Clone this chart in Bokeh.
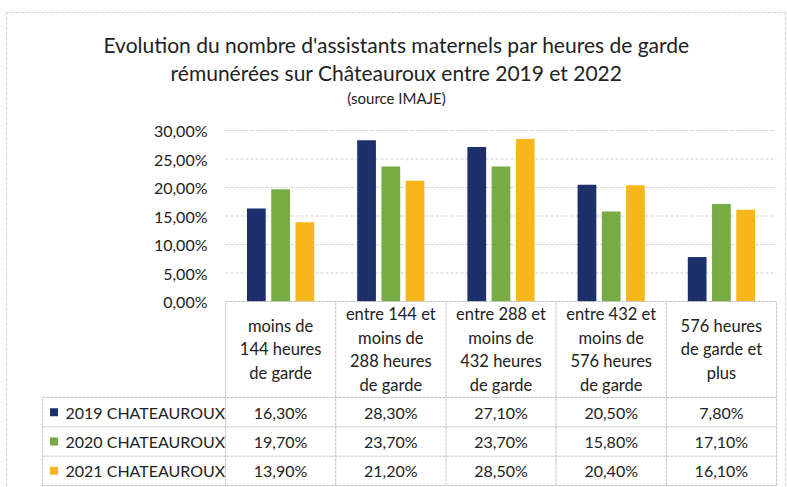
from bokeh.plotting import figure
from bokeh.models import Range1d, FixedTicker, ColumnDataSource
from bokeh.layouts import column
from bokeh.embed import file_html
from bokeh.resources import INLINE
from bokeh.core.properties import value

# ---------------- data ----------------
categories = [
    "moins de\n144 heures\nde garde",
    "entre 144 et\nmoins de\n288 heures\nde garde",
    "entre 288 et\nmoins de\n432 heures\nde garde",
    "entre 432 et\nmoins de\n576 heures\nde garde",
    "576 heures\nde garde et\nplus",
]
series_names = ["2019 CHATEAUROUX", "2020 CHATEAUROUX", "2021 CHATEAUROUX"]
values_2019 = [16.3, 28.3, 27.1, 20.5, 7.8]
values_2020 = [19.7, 23.7, 23.7, 15.8, 17.1]
values_2021 = [13.9, 21.2, 28.5, 20.4, 16.1]
y_ticks = [0, 5, 10, 15, 20, 25, 30]
colors = ["#1D306C", "#77AC45", "#F7B71B"]
title_lines = [
    "Evolution du nombre d'assistants maternels par heures de garde",
    "rémunérées sur Châteauroux entre 2019 et 2022",
    "(source IMAJE)",
]

series_values = [values_2019, values_2020, values_2021]

# ---------------- layout constants (page pixels) ----------------
FONT = "Lato"
TXT = "#222222"
GRID = "#cfcfcf"
TABLE_LINE = "#c2c2c2"
ORIGIN_X, ORIGIN_Y = 7, 13          # content origin inside the bordered box
W = 778
H = 486 - ORIGIN_Y
n = len(categories)
AXIS_X = 225                        # page x of the value axis
RIGHT_X = 776                       # page x of the last table line
LABEL_X = 42                        # page x of the row-label column
Y0_PAGE, Y30_PAGE = 301, 130        # page y of 0 % and 30 %
HEADER_BOTTOM = 397
TABLE_BOTTOM = 485
TITLE_CENTER_X = 396
TITLE_Y = [44, 72, 97]
TITLE_SIZES = ["21px", "21px", "15px"]
CAT_PX = (RIGHT_X - AXIS_X) / n
PCT_PX = (Y0_PAGE - Y30_PAGE) / 30.0
FRAME_L = LABEL_X - 1 - ORIGIN_X    # figure px
FRAME_R = RIGHT_X + 2 - ORIGIN_X

x_start = -(AXIS_X - (LABEL_X - 1)) / CAT_PX
x_end = n + 2.0 / CAT_PX
label_left = -(AXIS_X - LABEL_X) / CAT_PX


def page_y(py):
    return -(py - Y0_PAGE) / PCT_PX


def page_x(px):
    return (px - AXIS_X) / CAT_PX


def fmt(v):
    return ("%.2f" % v).replace(".", ",") + "%"


p = figure(width=W, height=H, output_backend="svg", toolbar_location=None,
           x_range=Range1d(x_start, x_end),
           y_range=Range1d(page_y(ORIGIN_Y + H), page_y(ORIGIN_Y)),
           x_axis_location=None, min_border_left=FRAME_L,
           min_border_right=W - FRAME_R, min_border_top=0, min_border_bottom=0)
p.outline_line_color = None
p.background_fill_color = "white"
p.border_fill_color = "white"
p.grid.visible = False

# ---- titles ----
for i, line in enumerate(title_lines):
    p.text(x=[page_x(TITLE_CENTER_X)], y=[page_y(TITLE_Y[i])], text=[line],
           text_align="center", text_baseline="middle", text_font=value(FONT),
           text_font_size=TITLE_SIZES[i], text_color=TXT)

# ---- value grid (only over the plot area) ----
grid_y = [t for t in y_ticks if t > 0]
p.segment(x0=[0] * len(grid_y), x1=[n] * len(grid_y), y0=grid_y, y1=grid_y,
          line_color=GRID, line_width=1, line_dash="3 2")

# ---- bars ----
offsets = [-0.22, 0.0, 0.22]
for k, vals in enumerate(series_values):
    src = ColumnDataSource(dict(x=[i + 0.5 + offsets[k] for i in range(n)], top=vals))
    p.vbar(x="x", top="top", bottom=0, width=0.17, source=src,
           fill_color=colors[k], line_color=None)

# ---- value axis at x = 0 ----
p.yaxis.fixed_location = 0
p.yaxis.ticker = FixedTicker(ticks=y_ticks)
p.yaxis.major_label_overrides = {t: fmt(t) for t in y_ticks}
p.yaxis.axis_line_color = None
p.yaxis.major_tick_line_color = None
p.yaxis.minor_tick_line_color = None
p.yaxis.major_label_standoff = 12
p.yaxis.major_label_text_font = FONT
p.yaxis.major_label_text_font_size = "16px"
p.yaxis.major_label_text_color = TXT

# ---- data table ----
nrows = len(series_names)
row_px = (TABLE_BOTTOM - HEADER_BOTTOM) / nrows
row_edges = [page_y(HEADER_BOTTOM + r * row_px) for r in range(nrows + 1)]
y_hdr_top = 0.0
y_tbl_bottom = row_edges[-1]

x0s, y0s, x1s, y1s = [], [], [], []
for ye in row_edges:
    x0s.append(label_left); x1s.append(n); y0s.append(ye); y1s.append(ye)
x0s.append(0); x1s.append(n); y0s.append(y_hdr_top); y1s.append(y_hdr_top)
for c in range(n + 1):
    x0s.append(c); x1s.append(c); y0s.append(y_tbl_bottom); y1s.append(y_hdr_top)
x0s.append(label_left); x1s.append(label_left); y0s.append(y_tbl_bottom); y1s.append(row_edges[0])
p.segment(x0=x0s, y0=y0s, x1=x1s, y1=y1s, line_color=TABLE_LINE, line_width=1,
          line_dash="3 1")

hdr_y = page_y((Y0_PAGE + HEADER_BOTTOM) / 2.0)
p.text(x=[i + 0.5 for i in range(n)], y=[hdr_y] * n, text=categories,
       text_align="center", text_baseline="middle", text_font=value(FONT),
       text_font_size="16.5px", text_color=TXT, text_line_height=1.19)

row_y = [(row_edges[k] + row_edges[k + 1]) / 2.0 for k in range(nrows)]
p.scatter(x=[label_left + 11.5 / CAT_PX] * nrows, y=row_y, marker="square", size=8,
          fill_color=colors, line_color=None)
p.text(x=[label_left + 23 / CAT_PX] * nrows, y=row_y, text=series_names,
       text_align="left", text_baseline="middle", text_font=value(FONT),
       text_font_size="16px", text_color=TXT)

vx, vy, vt = [], [], []
for k, vals in enumerate(series_values):
    for i, v in enumerate(vals):
        vx.append(i + 0.5); vy.append(row_y[k]); vt.append(fmt(v))
p.text(x=vx, y=vy, text=vt, text_align="center", text_baseline="middle",
       text_font=value(FONT), text_font_size="16px", text_color=TXT)

layout = column(p, spacing=0, margin=(ORIGIN_Y - 1, 0, 0, ORIGIN_X - 1),
                styles={"border": "1px dashed #d0d0d0", "border-bottom": "none"})
open("out.html", "w").write(file_html(layout, INLINE))
